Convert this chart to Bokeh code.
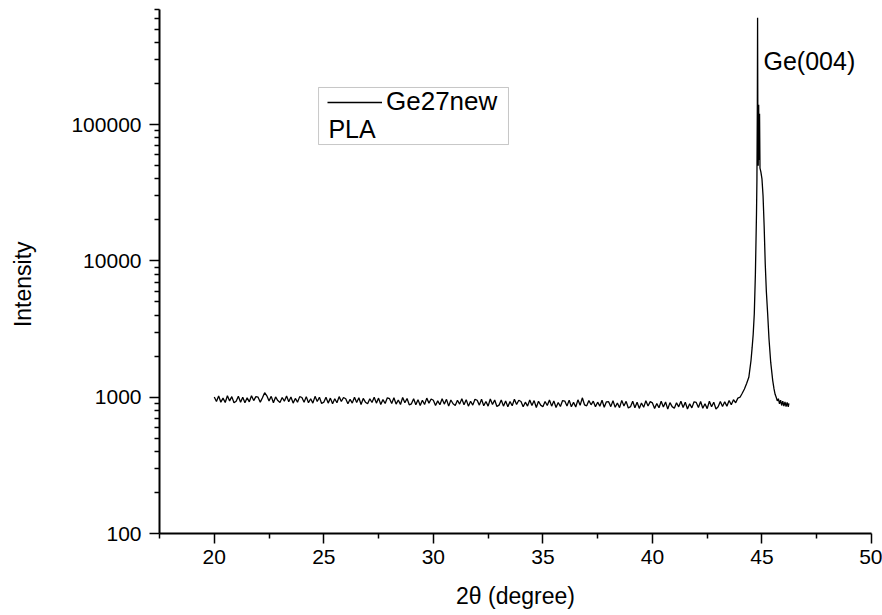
import numpy as np
from bokeh.plotting import figure
from bokeh.models import (Range1d, FixedTicker, PrintfTickFormatter, Label,
                          BoxAnnotation, Legend, LegendItem)
from bokeh.embed import file_html
from bokeh.resources import INLINE

# ---- data ----
# background scan, 2theta 20.0 ... 43.9 deg in 0.1 deg steps
baseline_intensity = [
    1005, 930, 1020, 920, 985, 915, 1025, 940, 1010, 910,
    935, 1015, 920, 1000, 910, 990, 925, 1025, 945, 1010,
    1000, 920, 990, 1080, 1025, 940, 1015, 910, 1005, 945,
    915, 995, 935, 1020, 925, 1005, 905, 980, 920, 1010,
    995, 920, 1010, 910, 975, 905, 1015, 930, 1000, 900,
    920, 1000, 905, 985, 895, 975, 910, 1010, 930, 995,
    975, 895, 965, 905, 1000, 915, 990, 885, 980, 920,
    895, 975, 915, 1000, 905, 985, 885, 960, 900, 990,
    975, 900, 990, 890, 955, 885, 995, 910, 980, 880,
    895, 975, 880, 960, 870, 950, 885, 985, 905, 970,
    950, 870, 940, 880, 975, 890, 965, 860, 955, 895,
    870, 950, 890, 975, 880, 960, 860, 935, 875, 965,
    950, 875, 965, 865, 930, 860, 970, 885, 955, 855,
    875, 955, 860, 940, 850, 930, 865, 965, 885, 950,
    930, 850, 920, 860, 955, 870, 945, 840, 935, 875,
    850, 930, 870, 955, 860, 940, 840, 915, 855, 945,
    937, 862, 952, 852, 917, 847, 957, 872, 990, 880,
    865, 945, 880, 935, 850, 920, 860, 950, 845, 925,
    928, 853, 943, 843, 908, 838, 948, 863, 933, 833,
    853, 933, 838, 918, 828, 908, 843, 943, 863, 928,
    908, 828, 898, 838, 933, 848, 923, 818, 913, 853,
    830, 910, 850, 935, 840, 920, 820, 895, 835, 925,
    915, 840, 930, 830, 895, 825, 935, 850, 920, 820,
    850, 930, 855, 925, 860, 945, 880, 960, 910, 985,
]
baseline_angle = np.round(20.0 + 0.1 * np.arange(len(baseline_intensity)), 2)

# Ge(004) reflection and the tail after it
peak_angle = [44.0, 44.1, 44.2, 44.3, 44.4, 44.5, 44.55, 44.6, 44.65, 44.7,
              44.72, 44.75, 44.77, 44.79, 44.80, 44.81, 44.83, 44.85, 44.87, 44.89,
              44.91, 44.95, 45.0, 45.05, 45.1, 45.15, 45.2, 45.26, 45.32, 45.4,
              45.49, 45.55, 45.6, 45.65, 45.7, 45.75, 45.8, 45.85, 45.9, 45.95,
              46.0, 46.05, 46.1, 46.15, 46.2, 46.23]
peak_intensity = [1000, 1070, 1150, 1260, 1400, 1860, 2300, 2900, 4100, 8000,
                  12000, 22000, 39000, 150000, 610000, 145000, 50000, 140000, 55000, 120000,
                  48000, 45000, 40000, 30000, 18000, 9500, 6000, 4100, 2700, 1800,
                  1330, 1150, 1050, 1000, 940, 975, 895, 950, 870, 935,
                  860, 925, 855, 915, 850, 900]

angle = np.concatenate([baseline_angle, peak_angle])
intensity = np.concatenate([baseline_intensity, peak_intensity])

series_name = "Ge27new"
sample_name = "PLA"
peak_name = "Ge(004)"
x_title = "2θ (degree)"
y_title = "Intensity"

x_major_ticks = [20, 25, 30, 35, 40, 45, 50]
x_minor_ticks = [17.5, 22.5, 27.5, 32.5, 37.5, 42.5, 47.5]
y_major_ticks = [100, 1000, 10000, 100000]
y_minor_ticks = [m * d for d in (100, 1000, 10000, 100000) for m in range(2, 10) if m * d <= 700000]

FONT = "Liberation Sans"

p = figure(width=882, height=615, output_backend="svg", toolbar_location=None,
           y_axis_type="log",
           x_range=Range1d(17.5, 50), y_range=Range1d(100, 700000),
           min_border_left=159, min_border_right=11, min_border_top=9, min_border_bottom=82)

p.outline_line_color = None
p.xgrid.visible = False
p.ygrid.visible = False
p.background_fill_color = "white"
p.border_fill_color = "white"

r = p.line(angle, intensity, line_color="black", line_width=1.3)

for ax in (p.xaxis[0], p.yaxis[0]):
    ax.axis_line_width = 2
    ax.axis_line_color = "black"
    ax.major_tick_line_width = 1.5
    ax.minor_tick_line_width = 1.5
    ax.major_tick_line_color = "black"
    ax.minor_tick_line_color = "black"
    ax.major_tick_in = 0
    ax.major_tick_out = 10
    ax.minor_tick_in = 0
    ax.minor_tick_out = 5
    ax.major_label_text_font = FONT
    ax.major_label_text_font_size = "21px"
    ax.major_label_text_color = "black"
    ax.axis_label_text_font = FONT
    ax.axis_label_text_font_size = "23px"
    ax.axis_label_text_font_style = "normal"
    ax.axis_label_text_color = "black"

p.xaxis.ticker = FixedTicker(ticks=x_major_ticks, minor_ticks=x_minor_ticks)
p.yaxis.ticker = FixedTicker(ticks=y_major_ticks, minor_ticks=y_minor_ticks)
p.yaxis.formatter = PrintfTickFormatter(format="%d")

p.xaxis.axis_label = x_title
p.xaxis.major_label_standoff = 6
p.xaxis.axis_label_standoff = 16
# trailing no-break spaces move the centred title a little towards the bottom, as in the original
p.yaxis.axis_label = y_title + "\u00a0" * 4
p.yaxis.major_label_standoff = 8
p.yaxis.axis_label_standoff = 32

# legend frame
p.add_layout(BoxAnnotation(left=24.76, right=33.43, bottom=71500, top=187400,
                           fill_alpha=0, line_color="#444444", line_width=1))
legend = Legend(items=[LegendItem(label=series_name, renderers=[r])],
                location=(168, 416), glyph_width=55, glyph_height=20,
                label_standoff=4, padding=0, margin=0, spacing=0,
                border_line_color=None, background_fill_alpha=0,
                label_text_font=FONT, label_text_font_size="26px",
                label_text_color="black", label_height=20)
p.add_layout(legend)
p.add_layout(Label(x=25.21, y=92950, text=sample_name, text_font=FONT,
                   text_font_size="25px", text_baseline="middle", text_color="black"))

p.add_layout(Label(x=45.07, y=295700, text=peak_name, text_font=FONT,
                   text_font_size="25px", text_baseline="middle", text_color="black"))

open("out.html", "w").write(file_html(p, INLINE))
